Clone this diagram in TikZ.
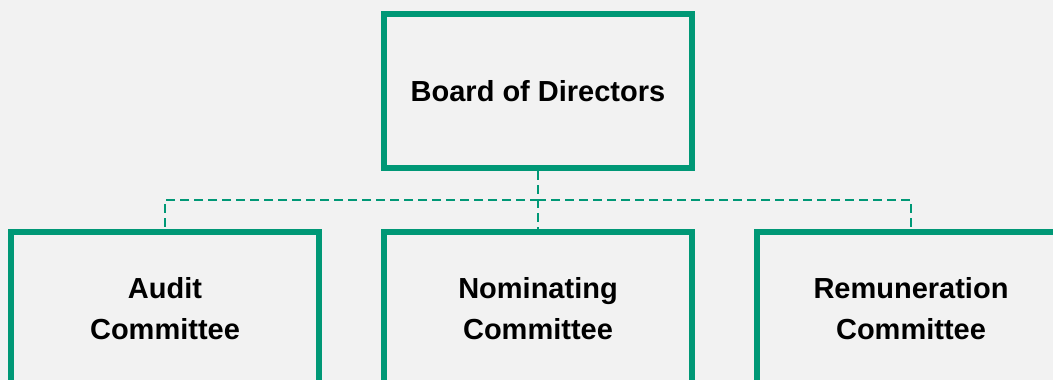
\documentclass[tikz,border=0pt]{standalone}
\usepackage{fontspec}
\setmainfont{Liberation Sans}
\definecolor{boardgreen}{RGB}{0,152,118}
\definecolor{panelgray}{RGB}{242,242,242}
\begin{document}
\begin{tikzpicture}[
x=1pt, y=1pt,
level distance=218pt, sibling distance=373pt,
every node/.style={draw=boardgreen, line width=6pt,
    minimum width=308pt, minimum height=154pt, align=center,
    font=\fontsize{29}{41}\selectfont\bfseries},
edge from parent/.style={draw=boardgreen, line width=2pt, dash pattern=on 9pt off 5pt},
edge from parent path={(\tikzparentnode.south) -- ++(0,-29) -| (\tikzchildnode.north)}
]
\fill[panelgray] (0,0) rectangle (1053,-380);
\useasboundingbox (0,0) rectangle (1053,-380);
\begin{scope}
\clip (0,0) rectangle (1053,-380);
\node (board) at (538,-91) {Board of Directors}
child { node (audit) {Audit\\Committee} }
child { node (nominating) {Nominating\\Committee} }
child { node (remuneration) {Remuneration\\Committee} };
\end{scope}
\end{tikzpicture}
\end{document}
